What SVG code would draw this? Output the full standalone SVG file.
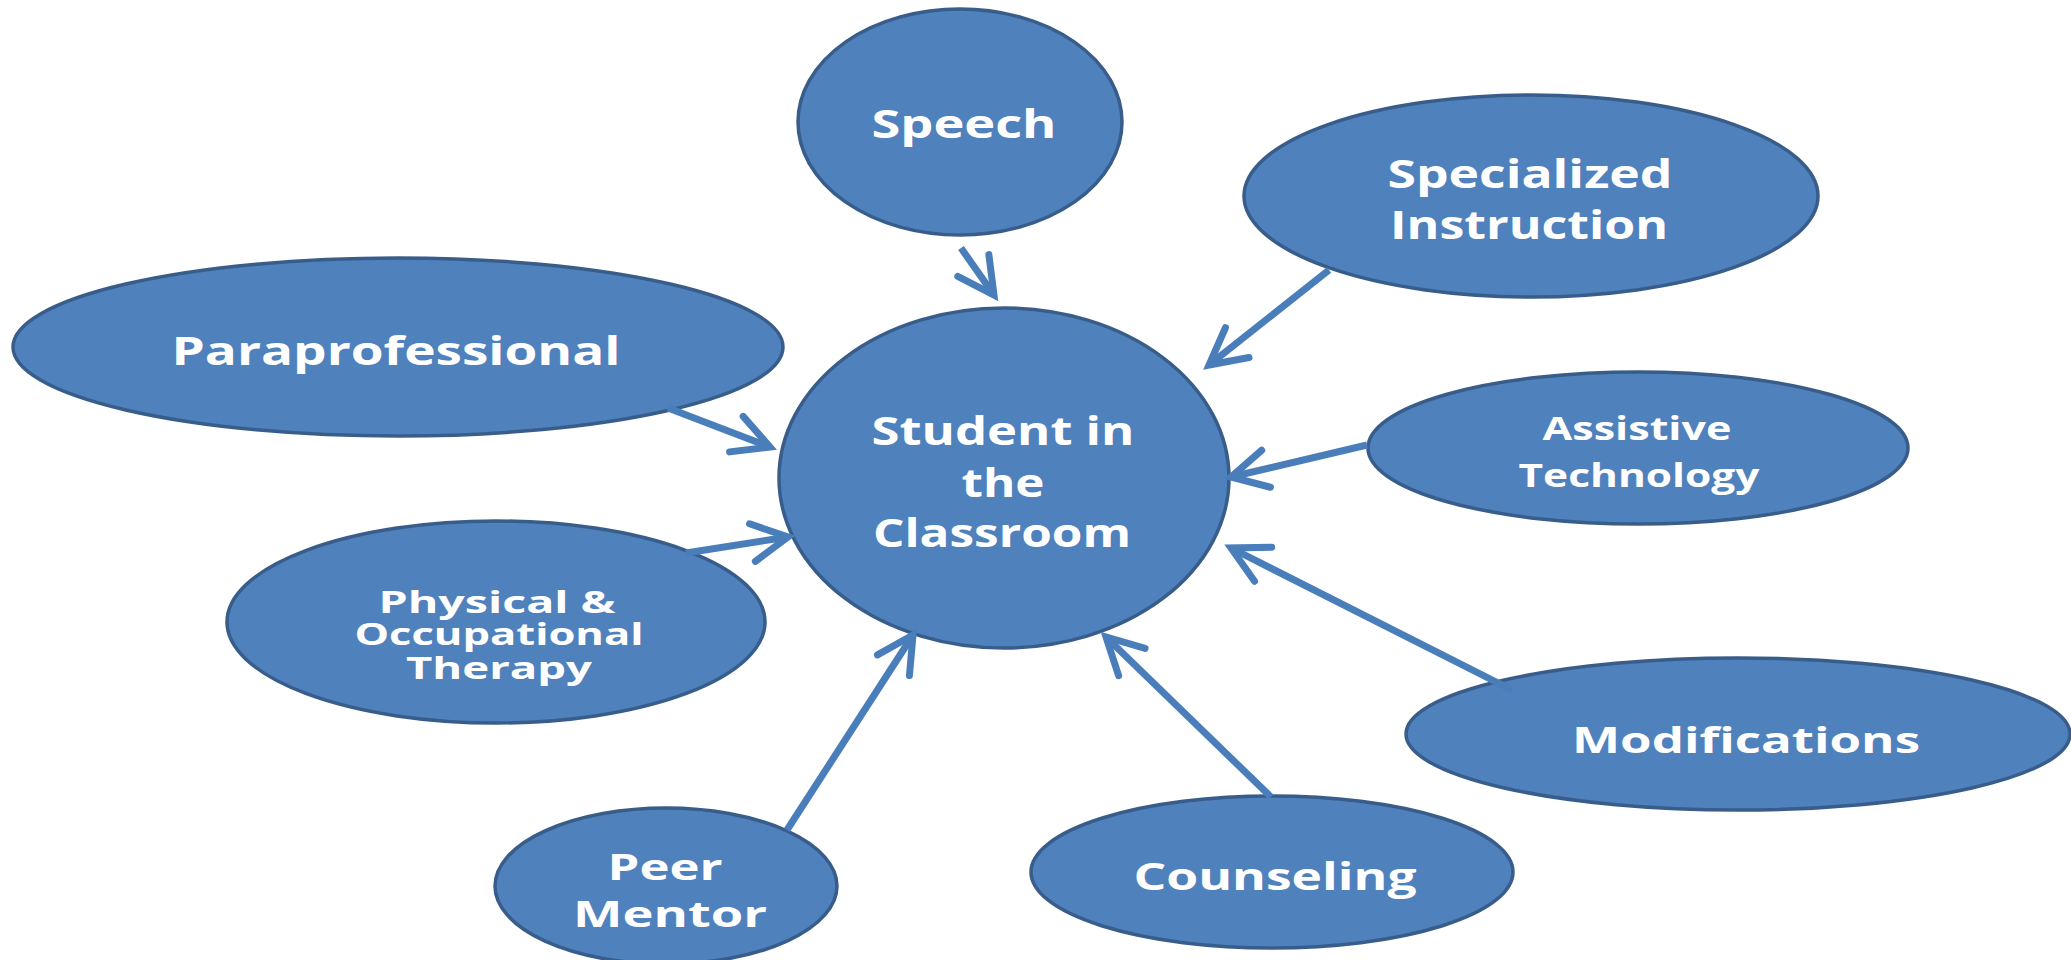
<svg xmlns="http://www.w3.org/2000/svg" width="2071" height="960" viewBox="0 0 2071 960">
<style>
.node{fill:#4F81BD;stroke:#385D8A;stroke-width:3.5}
.lbl{fill:#FFFFFF;font-family:"Open Sans","Liberation Sans",sans-serif;font-weight:bold;text-anchor:middle}
.conn{fill:none;stroke:#4A7EBB;stroke-width:7;stroke-linecap:butt}
</style>
<defs>
<marker id="arr" markerUnits="userSpaceOnUse" markerWidth="60" markerHeight="60" viewBox="-45 -30 60 60" refX="0" refY="0" orient="auto">
<path d="M-36,-19 L0,0 L-36,19" fill="none" stroke="#4A7EBB" stroke-width="7" stroke-linecap="round" stroke-linejoin="miter"/>
</marker>
</defs>
<rect width="2071" height="960" fill="#FFFFFF"/>
<g id="speech">
<ellipse class="node" cx="960" cy="122" rx="162" ry="113"/>
<text class="lbl" x="964" y="138" font-size="40" textLength="185" lengthAdjust="spacingAndGlyphs">Speech</text>
</g>
<g id="specialized-instruction">
<ellipse class="node" cx="1531" cy="196" rx="287" ry="101"/>
<text class="lbl" x="1530" y="188" font-size="39" textLength="285" lengthAdjust="spacingAndGlyphs">Specialized</text>
<text class="lbl" x="1529" y="239" font-size="39" textLength="278" lengthAdjust="spacingAndGlyphs">Instruction</text>
</g>
<g id="paraprofessional">
<ellipse class="node" cx="398" cy="347" rx="385" ry="89"/>
<text class="lbl" x="396" y="365" font-size="40" textLength="449" lengthAdjust="spacingAndGlyphs">Paraprofessional</text>
</g>
<g id="student">
<ellipse class="node" cx="1004" cy="478" rx="225" ry="170"/>
<text class="lbl" x="1003" y="445" font-size="39" textLength="263" lengthAdjust="spacingAndGlyphs">Student in</text>
<text class="lbl" x="1003" y="497" font-size="39" textLength="83" lengthAdjust="spacingAndGlyphs">the</text>
<text class="lbl" x="1002" y="547" font-size="39" textLength="258" lengthAdjust="spacingAndGlyphs">Classroom</text>
</g>
<g id="assistive-technology">
<ellipse class="node" cx="1638" cy="448" rx="270" ry="76"/>
<text class="lbl" x="1637" y="440" font-size="33" textLength="189" lengthAdjust="spacingAndGlyphs">Assistive</text>
<text class="lbl" x="1639" y="487" font-size="33" textLength="241" lengthAdjust="spacingAndGlyphs">Technology</text>
</g>
<g id="physical-occupational-therapy">
<ellipse class="node" cx="496" cy="622" rx="269" ry="101"/>
<text class="lbl" x="497" y="613" font-size="30" textLength="237" lengthAdjust="spacingAndGlyphs">Physical  &amp;</text>
<text class="lbl" x="499" y="645" font-size="30" textLength="289" lengthAdjust="spacingAndGlyphs">Occupational</text>
<text class="lbl" x="499" y="679" font-size="30" textLength="186" lengthAdjust="spacingAndGlyphs">Therapy</text>
</g>
<g id="modifications">
<ellipse class="node" cx="1738" cy="734" rx="332" ry="76"/>
<text class="lbl" x="1746" y="753" font-size="36" textLength="348" lengthAdjust="spacingAndGlyphs">Modifications</text>
</g>
<g id="counseling">
<ellipse class="node" cx="1272" cy="872" rx="241" ry="76"/>
<text class="lbl" x="1275" y="890" font-size="38" textLength="283" lengthAdjust="spacingAndGlyphs">Counseling</text>
</g>
<g id="peer-mentor">
<ellipse class="node" cx="666" cy="886" rx="171" ry="78"/>
<text class="lbl" x="665" y="880" font-size="36" textLength="115" lengthAdjust="spacingAndGlyphs">Peer</text>
<text class="lbl" x="670" y="927" font-size="36" textLength="194" lengthAdjust="spacingAndGlyphs">Mentor</text>
</g>
<g id="connectors">
<line class="conn" x1="961" y1="248" x2="994" y2="295" marker-end="url(#arr)"/>
<line class="conn" x1="1329" y1="270" x2="1209" y2="365" marker-end="url(#arr)"/>
<line class="conn" x1="668" y1="408" x2="770" y2="447" marker-end="url(#arr)"/>
<line class="conn" x1="686" y1="553" x2="788" y2="537" marker-end="url(#arr)"/>
<line class="conn" x1="1367" y1="445" x2="1231" y2="477" marker-end="url(#arr)"/>
<line class="conn" x1="1512" y1="690" x2="1231" y2="548" marker-end="url(#arr)"/>
<line class="conn" x1="1271" y1="797" x2="1106" y2="637" marker-end="url(#arr)"/>
<line class="conn" x1="787" y1="830" x2="913" y2="635" marker-end="url(#arr)"/>
</g>
</svg>
